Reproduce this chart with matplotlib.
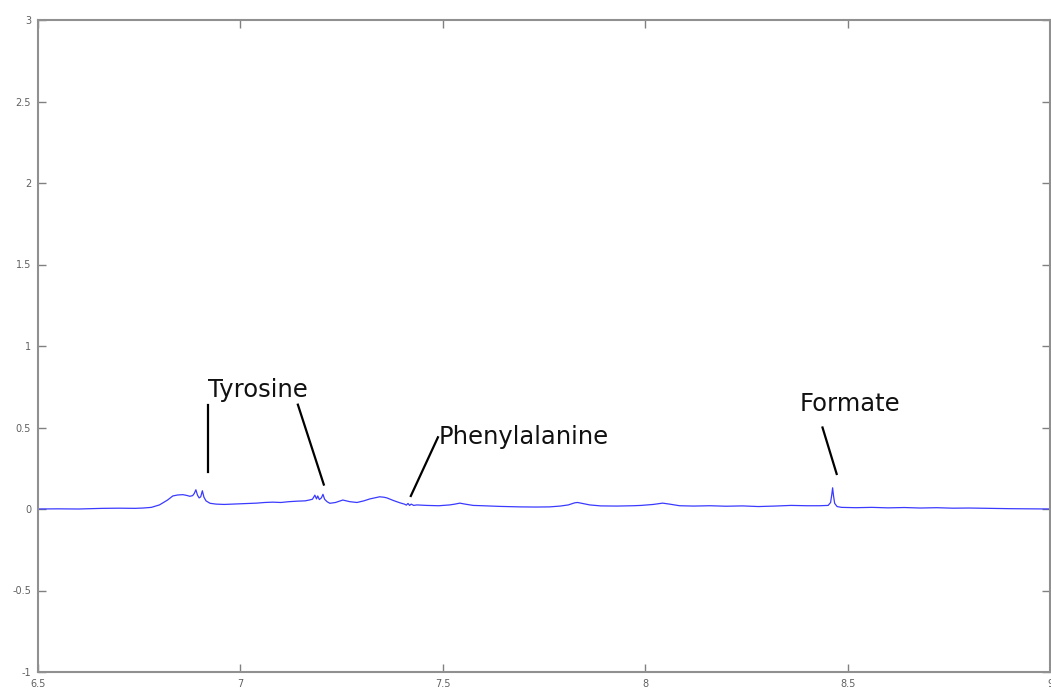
import numpy as np
import matplotlib
matplotlib.use('Agg')
import matplotlib.pyplot as plt

## spectrum data (ppm, intensity), rows kept aligned
ppm = [6.50, 6.55, 6.60, 6.63, 6.66, 6.70, 6.74, 6.76, 6.78, 6.80,
       6.81, 6.82, 6.833, 6.845, 6.858, 6.868, 6.875, 6.882, 6.886, 6.890,
       6.894, 6.898, 6.902, 6.906, 6.910, 6.915, 6.925, 6.94, 6.96, 6.98,
       7.00, 7.02, 7.04, 7.06, 7.08, 7.10, 7.12, 7.14, 7.16, 7.17,
       7.178, 7.184, 7.188, 7.191, 7.195, 7.200, 7.204, 7.208, 7.214, 7.221,
       7.235, 7.253, 7.27, 7.288, 7.305, 7.320, 7.335, 7.344, 7.355, 7.362,
       7.378, 7.394, 7.405, 7.410, 7.414, 7.418, 7.422, 7.428, 7.436, 7.46,
       7.49, 7.517, 7.530, 7.542, 7.555, 7.575, 7.599, 7.64, 7.690, 7.73,
       7.764, 7.79, 7.81, 7.826, 7.833, 7.845, 7.863, 7.89, 7.93, 7.97,
       7.99, 8.02, 8.043, 8.06, 8.085, 8.12, 8.16, 8.20, 8.24, 8.28,
       8.32, 8.36, 8.40, 8.43, 8.452, 8.458, 8.461, 8.463, 8.465, 8.468,
       8.474, 8.485, 8.52, 8.56, 8.60, 8.64, 8.68, 8.72, 8.76, 8.80,
       8.85, 8.90, 8.95, 9.00]
intensity = [0.000, 0.001, 0.000, 0.002, 0.004, 0.005, 0.004, 0.006, 0.010, 0.025,
             0.040, 0.055, 0.080, 0.086, 0.088, 0.083, 0.078, 0.082, 0.095, 0.118,
             0.085, 0.068, 0.075, 0.112, 0.072, 0.050, 0.035, 0.030, 0.028, 0.030,
             0.032, 0.034, 0.036, 0.040, 0.042, 0.040, 0.045, 0.048, 0.050, 0.055,
             0.060, 0.085, 0.062, 0.080, 0.058, 0.068, 0.090, 0.060, 0.045, 0.035,
             0.040, 0.055, 0.045, 0.040, 0.050, 0.062, 0.070, 0.075, 0.072, 0.068,
             0.052, 0.038, 0.030, 0.024, 0.034, 0.022, 0.030, 0.022, 0.025, 0.022,
             0.020, 0.025, 0.030, 0.036, 0.030, 0.022, 0.020, 0.016, 0.013, 0.012,
             0.013, 0.018, 0.025, 0.038, 0.040, 0.034, 0.025, 0.019, 0.018, 0.020,
             0.022, 0.028, 0.036, 0.030, 0.020, 0.018, 0.020, 0.017, 0.019, 0.015,
             0.018, 0.022, 0.020, 0.020, 0.022, 0.040, 0.090, 0.130, 0.085, 0.035,
             0.015, 0.010, 0.008, 0.010, 0.007, 0.009, 0.006, 0.008, 0.005, 0.006,
             0.004, 0.002, 0.001, 0.000]

## annotation labels and leader lines
labels = ['Tyrosine', 'Phenylalanine', 'Formate']
label_pos = [(6.92, 0.73), (7.49, 0.44), (8.381, 0.645)]
leaders = [[(6.92, 0.64), (6.92, 0.225)],
           [(7.142, 0.64), (7.206, 0.15)],
           [(7.488, 0.44), (7.421, 0.08)],
           [(8.438, 0.50), (8.473, 0.215)]]

xticks = [6.5, 7, 7.5, 8, 8.5, 9]
yticks = [-1, -0.5, 0, 0.5, 1, 1.5, 2, 2.5, 3]

fig = plt.figure(figsize=(10.51, 6.88), dpi=100)
ax = fig.add_axes([38/1051, 16/688, 1012/1051, 652/688])
ax.plot(ppm, intensity, color='#3a3aff', lw=0.9)

for (x0, y0), (x1, y1) in leaders:
    ax.plot([x0, x1], [y0, y1], color='black', lw=1.6)
for lab, (lx, ly) in zip(labels, label_pos):
    ax.text(lx, ly, lab, fontsize=17.5, va='center', ha='left', color='#111111')

ax.set_xlim(6.5, 9)
ax.set_ylim(-1, 3)
ax.set_xticks(xticks)
ax.set_xticklabels(['6.5', '7', '7.5', '8', '8.5', '9'])
ax.set_yticks(yticks)
ax.set_yticklabels(['-1', '-0.5', '0', '0.5', '1', '1.5', '2', '2.5', '3'])
ax.tick_params(direction='in', length=6, width=1, color='#808080', labelcolor='#606060',
               labelsize=7, top=True, right=True)
ax.tick_params(axis='y', pad=5)
ax.tick_params(axis='x', pad=5)
for s in ax.spines.values():
    s.set_color('#909090')
    s.set_linewidth(1.5)

fig.savefig('out.png', dpi=100)
